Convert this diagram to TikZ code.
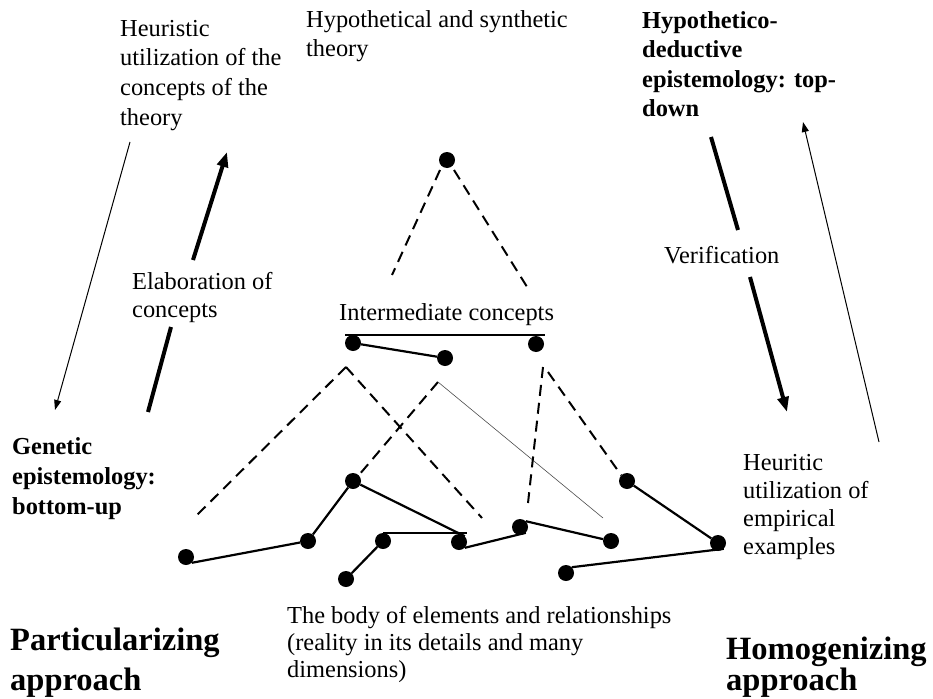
\documentclass[tikz,border=0pt]{standalone}
\usepackage{fontspec}
\setmainfont{Liberation Serif}
\usetikzlibrary{arrows.meta}
\begin{document}
\begin{tikzpicture}[x=1pt,y=-1pt,
  txt/.style={anchor=base west, inner sep=0pt, align=left, font=\fontsize{24.4}{29.5}\selectfont},
  btxt/.style={anchor=base west, inner sep=0pt, align=left, font=\fontsize{24.4}{29.5}\selectfont\bfseries},
  bigtxt/.style={anchor=base west, inner sep=0pt, align=left, font=\fontsize{32.5}{40}\selectfont\bfseries},
  dot/.style={circle, fill=black, inner sep=0pt, minimum size=16pt},
  link/.style={line width=2.2pt},
  dashline/.style={line width=2pt, dash pattern=on 11pt off 7pt},
  faint/.style={line width=0.6pt, black!70},
  thickarrow/.style={line width=4pt, -{Triangle[length=15pt,width=11pt]}},
  thickseg/.style={line width=4pt},
  thinarrow/.style={line width=1pt, -{Triangle[length=10pt,width=7pt]}}]
\useasboundingbox (0,0) rectangle (933,698);

% texts (anchor = baseline of the last line)
\node[txt] (heur) at (120,125) {Heuristic\\utilization of the\\concepts of the\\theory};
\node[txt] (hyp) at (306,57) {Hypothetical and synthetic\\theory};
\node[btxt, font=\fontsize{24.4}{29.6}\selectfont\bfseries] (hd) at (642,117) {Hypothetico-\\deductive\\epistemology: top-\\down};
\node[txt, font=\fontsize{24.4}{28}\selectfont] (elab) at (132,317) {Elaboration of\\concepts};
\node[txt] (inter) at (339,320) {Intermediate concepts};
\node[txt] (verif) at (664,263) {Verification};
\node[btxt, font=\fontsize{24.4}{30}\selectfont\bfseries] (gen) at (12,514) {Genetic\\epistemology:\\bottom-up};
\node[txt, font=\fontsize{24.4}{28}\selectfont] (heuemp) at (743,554) {Heuritic\\utilization of\\empirical\\examples};
\node[txt, font=\fontsize{24.4}{27}\selectfont] (body) at (287,677) {The body of elements and relationships\\(reality in its details and many\\dimensions)};
\node[bigtxt] (part) at (10,690) {Particularizing\\approach};
\node[bigtxt, font=\fontsize{32.5}{29}\selectfont\bfseries] (homo) at (726,690) {Homogenizing\\approach};

% dots
\node[dot] (T) at (447,160) {};
\node[dot] (A) at (353,343) {};
\node[dot] (B) at (445,358) {};
\node[dot] (C) at (536,344) {};
\node[dot] (D) at (353,481) {};
\node[dot] (E) at (308,541) {};
\node[dot] (F) at (383,541) {};
\node[dot] (G) at (459,542) {};
\node[dot] (H) at (520,527) {};
\node[dot] (I) at (611,541) {};
\node[dot] (J) at (346,579) {};
\node[dot] (K) at (566,573) {};
\node[dot] (L) at (186,557) {};
\node[dot] (R1) at (627,481) {};
\node[dot] (R2) at (718,543) {};

% free ends
\coordinate (ic1) at (345,335);
\coordinate (ic2) at (545,335);
\coordinate (t1) at (392,275);
\coordinate (t2) at (529,290);
\coordinate (t0) at (440,170);
\coordinate (t3) at (454,170);
\coordinate (a1) at (346,367);
\coordinate (a2) at (193,519);
\coordinate (a3) at (482,518);
\coordinate (b1) at (438,382);
\coordinate (b2) at (603,518);
\coordinate (c1) at (543,367);
\coordinate (c2) at (528,503);
\coordinate (c3) at (548,372);

% solid links
\draw[link] (ic1) -- (ic2);
\draw[link] (A) -- (B);
\draw[link] (L.south east) -- (E);
\draw[link] (E) -- (D);
\draw[link] (D) -- (G.north east);
\draw[link] (F.north) -- (F.north -| G.east);
\draw[link] (J) -- (F);
\draw[link] (G.south east) -- (H.south east);
\draw[link] (H.north east) -- (I);
\draw[link] (R1) -- (R2);
\draw[link] (K.north east) -- (R2.south east);

% dashed links
\draw[dashline] (t0) -- (t1);
\draw[dashline] (t3) -- (t2);
\draw[dashline] (a1) -- (a2);
\draw[dashline] (a1) -- (a3);
\draw[dashline] (b1) -- (D.north east);
\draw[faint] (b1) -- (b2);
\draw[dashline] (c1) -- (c2);
\draw[dashline] (c3) -- (R1.north west);

% arrows
\coordinate (la1) at (130,142);
\coordinate (la2) at (55,410);
\draw[thinarrow] (la1) -- (la2);
\coordinate (e1) at (148,412);
\coordinate (e2) at (171,327);
\coordinate (e3) at (193,260);
\coordinate (e4) at (227,152);
\draw[thickseg] (e1) -- (e2);
\draw[thickarrow] (e3) -- (e4);
\coordinate (v1) at (711,137);
\coordinate (v2) at (738,230);
\coordinate (v3) at (750,277);
\coordinate (v4) at (787,412);
\draw[thickseg] (v1) -- (v2);
\draw[thickarrow] (v3) -- (v4);
\coordinate (ra1) at (879,442);
\coordinate (ra2) at (803,122);
\draw[thinarrow] (ra1) -- (ra2);
\end{tikzpicture}
\end{document}
